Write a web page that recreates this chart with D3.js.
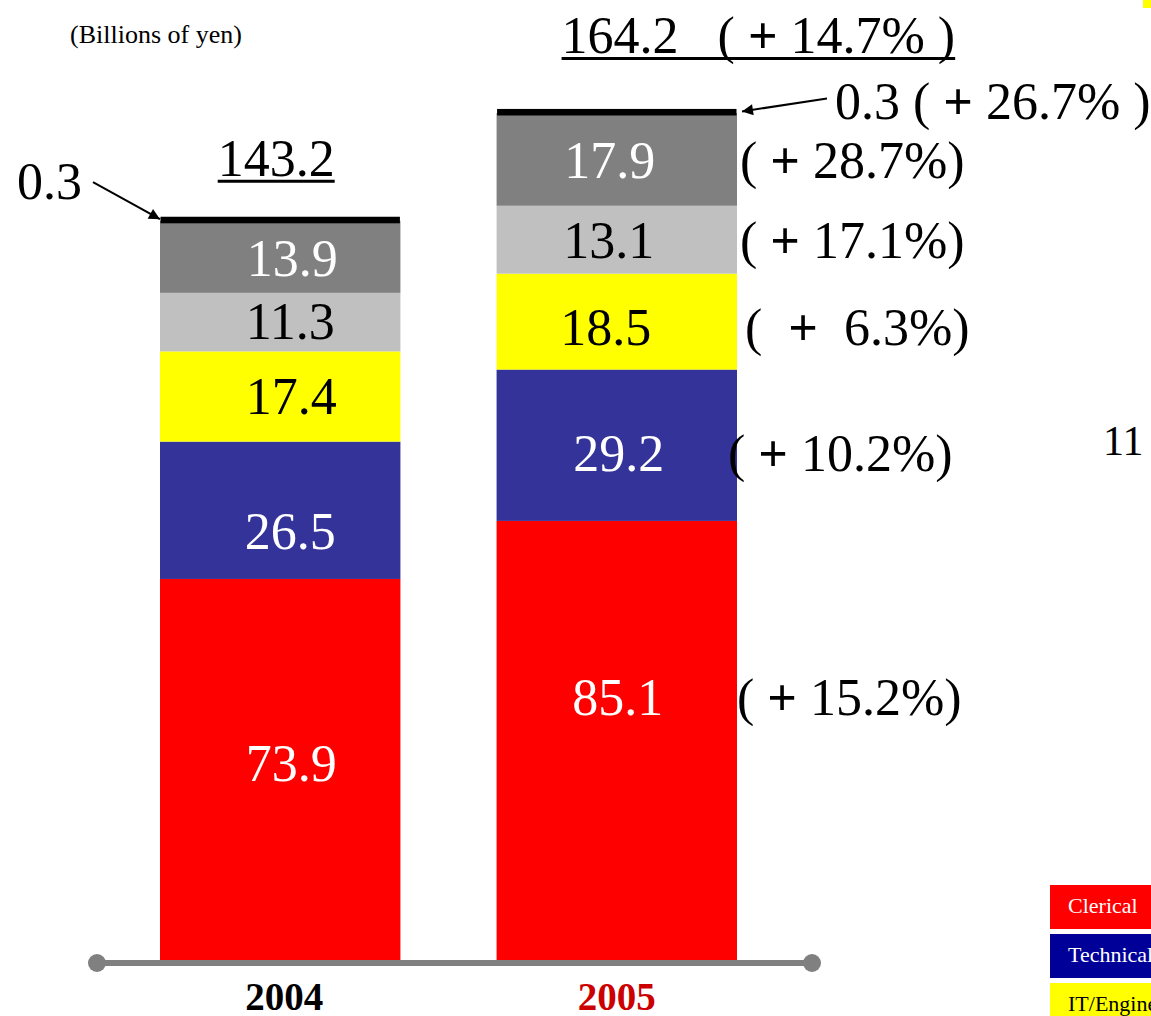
<!DOCTYPE html>
<html>
<head>
<meta charset="utf-8">
<script src="https://cdn.jsdelivr.net/npm/d3@7"></script>
<style>
  body { margin: 0; background: #fff; }
  svg text { font-family: "Liberation Serif", "Times New Roman", serif; white-space: pre; }
</style>
</head>
<body>
<div class="chart"></div>
<script>
// data
const years = ["2004", "2005"]
const segments = ["Clerical", "Technical", "IT/Engineering", "Category 4", "Category 5", "Category 6"]
const values2004 = [73.9, 26.5, 17.4, 11.3, 13.9, 0.3]
const values2005 = [85.1, 29.2, 18.5, 13.1, 17.9, 0.3]
const growth2005 = ["( + 15.2%)", "( + 10.2%)", "(  +  6.3%)", "( + 17.1%)", "( + 28.7%)", "( + 26.7% )"]
const totals = ["143.2", "164.2"]
const totalGrowth = "( + 14.7% )"
const legendLabels = ["Clerical", "Technical", "IT/Engineering"]

const colors = ["#ff0000", "#333399", "#ffff00", "#c0c0c0", "#808080", "#000000"]
const labelColors = ["#fff", "#fff", "#000", "#000", "#fff", "#000"]
const legendColors = ["#ff0000", "#000099", "#ffff00"]
const legendText = ["#fff", "#fff", "#000"]

// small hand nudges so labels sit where the original put them
const labelNudgeY = {"2004": [-6, 22, 0, 0, 2, 0], "2005": [-43, 9, 6, 1, 2, 0]}
const labelNudgeX = {"2004": [11, 10, 11, 10, 12, 0], "2005": [1, 2, -11, -8, -7, 0]}
const pctNudgeX = [0, -9, 8, 3, 3]

const W = 1151, H = 1016

const svg = d3.select(".chart").append("svg")
  .attr("width", W)
  .attr("height", H)

svg.append("defs").append("marker")
  .attr("id", "arrow")
  .attr("viewBox", "0 0 10 10")
  .attr("refX", 10).attr("refY", 5)
  .attr("markerWidth", 14).attr("markerHeight", 11)
  .attr("markerUnits", "userSpaceOnUse")
  .attr("orient", "auto")
  .append("path")
  .attr("d", "M0,0 L10,5 L0,10 z")
  .attr("fill", "#000")

const table = years.map(function (yr, i) {
  const vals = i === 0 ? values2004 : values2005
  const row = {year: yr}
  segments.forEach(function (s, j) { row[s] = vals[j] })
  return row
})

const stack = d3.stack().keys(segments)(table)

const x = d3.scaleBand()
  .domain(years)
  .range([160, 737])
  .paddingInner(0.2857)
  .paddingOuter(0)

const y = d3.scaleLinear()
  .domain([0, 185.6])
  .range([962, 0])

// bars
const layer = svg.selectAll("g.layer")
  .data(stack)
  .enter().append("g")
  .attr("class", "layer")
  .attr("fill", function (d, i) { return colors[i] })

layer.selectAll("rect")
  .data(function (d) { return d })
  .enter().append("rect")
  .attr("x", function (d) { return x(d.data.year) })
  .attr("width", x.bandwidth())
  .attr("y", function (d) { return y(d[1]) })
  .attr("height", function (d) { return y(d[0]) - y(d[1]) })

// the thin 0.3 slice is drawn as a heavy black rule
svg.selectAll("g.layer").filter(function (d, i) { return i === 5 })
  .selectAll("rect")
  .attr("x", function (d) { return x(d.data.year) + 3 })
  .attr("width", x.bandwidth() - 6)
  .attr("stroke", "#000")
  .attr("stroke-width", 5)

// value labels inside bars
stack.forEach(function (s, i) {
  if (i === 5) return
  svg.selectAll(null)
    .data(s)
    .enter().append("text")
    .attr("x", function (d) { return x(d.data.year) + x.bandwidth() / 2 + labelNudgeX[d.data.year][i] })
    .attr("y", function (d) {
      return (y(d[0]) + y(d[1])) / 2 + 17 + labelNudgeY[d.data.year][i]
    })
    .attr("text-anchor", "middle")
    .attr("font-size", 52)
    .attr("fill", labelColors[i])
    .text(function (d) { return d3.format(".1f")(d[1] - d[0]) })
})

// writes a growth string with a heavier plus sign
function growthText(sel, str) {
  const parts = str.split("+")
  sel.append("tspan").text(parts[0])
  sel.append("tspan").attr("font-weight", "bold").text("+")
  sel.append("tspan").text(parts[1])
}

// growth labels right of 2005 bar
const r2005 = x("2005") + x.bandwidth()
stack.forEach(function (s, i) {
  if (i === 5) return
  const d = s[1]
  const t = svg.append("text")
    .attr("x", r2005 + pctNudgeX[i])
    .attr("y", (y(d[0]) + y(d[1])) / 2 + 17 + labelNudgeY["2005"][i])
    .attr("font-size", 52)
  growthText(t, growth2005[i])
})

// 0.3 annotations with arrows
const top2004 = y(stack[5][0][1])
const top2005 = y(stack[5][1][1])
const l2004 = x("2004")

svg.append("line")
  .attr("x1", l2004 - 67).attr("y1", top2004 - 37)
  .attr("x2", l2004).attr("y2", top2004)
  .attr("stroke", "#000").attr("stroke-width", 2)
  .attr("marker-end", "url(#arrow)")
svg.append("text")
  .attr("x", l2004 - 143).attr("y", top2004 - 20)
  .attr("font-size", 52)
  .text(d3.format(".1f")(values2004[5]))

svg.append("line")
  .attr("x1", r2005 + 90).attr("y1", top2005 - 13)
  .attr("x2", r2005 + 5).attr("y2", top2005)
  .attr("stroke", "#000").attr("stroke-width", 2)
  .attr("marker-end", "url(#arrow)")
const a2 = svg.append("text")
  .attr("x", r2005 + 98).attr("y", top2005 + 8)
  .attr("font-size", 52)
growthText(a2, d3.format(".1f")(values2005[5]) + " " + growth2005[5])

// totals, underlined
function underline(t) {
  const b = t.node().getBBox()
  svg.append("line")
    .attr("x1", b.x).attr("x2", b.x + b.width)
    .attr("y1", +t.attr("y") + 5).attr("y2", +t.attr("y") + 5)
    .attr("stroke", "#000").attr("stroke-width", 3)
}
const t1 = svg.append("text")
  .attr("x", l2004 + x.bandwidth() / 2 - 4)
  .attr("y", top2004 - 43)
  .attr("text-anchor", "middle")
  .attr("font-size", 52)
  .text(totals[0])
underline(t1)
const t2 = svg.append("text")
  .attr("x", x("2005") + 65)
  .attr("y", top2005 - 58)
  .attr("font-size", 52)
growthText(t2, totals[1] + "   " + totalGrowth)
underline(t2)

// unit
svg.append("text")
  .attr("x", 70).attr("y", 43)
  .attr("font-size", 26)
  .text("(Billions of yen)")

// baseline with round ends
const xa = x.range()[0] - 63, xb = x.range()[1] + 75
svg.append("line")
  .attr("x1", xa).attr("x2", xb)
  .attr("y1", y(0) + 1).attr("y2", y(0) + 1)
  .attr("stroke", "#808080").attr("stroke-width", 6)
svg.selectAll("circle.end")
  .data([xa, xb])
  .enter().append("circle")
  .attr("cx", function (d) { return d })
  .attr("cy", y(0) + 1)
  .attr("r", 9)
  .attr("fill", "#808080")

// year axis
const xAxis = d3.axisBottom(x).tickSize(0).tickPadding(0)
svg.append("g")
  .attr("transform", "translate(0," + 1010 + ")")
  .call(xAxis)
  .call(function (g) { g.select(".domain").remove() })
  .selectAll("text")
  .attr("dy", 0)
  .attr("x", function (d) { return d === "2004" ? 4 : 0 })
  .attr("font-family", "Liberation Serif")
  .attr("font-size", 39)
  .attr("font-weight", "bold")
  .attr("fill", function (d) { return d === "2005" ? "#cc0000" : "#000" })

// stray page number at right
svg.append("text")
  .attr("x", 1103).attr("y", 455)
  .attr("font-size", 42)
  .text("11")

// small yellow mark top right
svg.append("rect")
  .attr("x", 1143).attr("y", 0)
  .attr("width", 8).attr("height", 8)
  .attr("fill", "#ffff00")

// legend, cut off by the page edge
const lg = svg.selectAll("g.legend")
  .data(legendLabels)
  .enter().append("g")
  .attr("class", "legend")
  .attr("transform", function (d, i) { return "translate(1050," + (885 + i * 49) + ")" })
lg.append("rect")
  .attr("width", 110).attr("height", 44)
  .attr("fill", function (d, i) { return legendColors[i] })
lg.append("text")
  .attr("x", 18).attr("y", 28)
  .attr("font-size", 22)
  .attr("fill", function (d, i) { return legendText[i] })
  .text(function (d) { return d })
</script>
</body>
</html>
